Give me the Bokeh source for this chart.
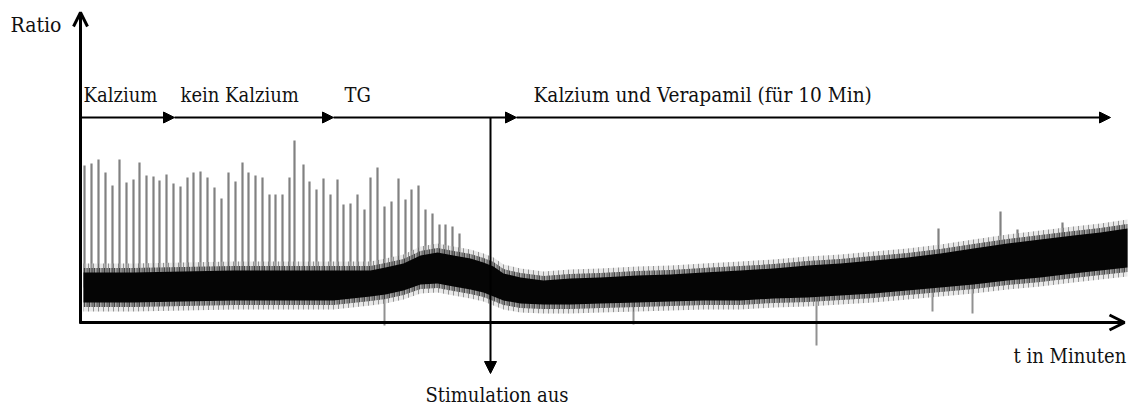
import numpy as np
from bokeh.plotting import figure
from bokeh.models import Range1d, Arrow, NormalHead, OpenHead
from bokeh.core.properties import value
from bokeh.embed import file_html
from bokeh.resources import INLINE

# ---------------- data (time in s, Fura-2 ratio) ----------------
# envelope of the dense noisy trace
env_t = [3, 53, 103, 153, 203, 253, 290, 305, 323, 340, 357, 373, 390, 403, 413,
         423, 440, 463, 490, 520, 557, 590, 623, 660, 693, 727, 760, 793, 827,
         860, 893, 927, 960, 993, 1020, 1047]
env_high = [0.75, 0.75, 0.755, 0.76, 0.76, 0.76, 0.76, 0.775, 0.795, 0.835, 0.85,
            0.835, 0.82, 0.80, 0.78, 0.745, 0.725, 0.71, 0.72, 0.725, 0.735, 0.74,
            0.75, 0.76, 0.77, 0.785, 0.795, 0.81, 0.825, 0.845, 0.87, 0.895, 0.915,
            0.935, 0.95, 0.97]
env_low = [0.60, 0.60, 0.605, 0.61, 0.61, 0.61, 0.63, 0.64, 0.66, 0.69, 0.695,
           0.68, 0.665, 0.65, 0.63, 0.61, 0.595, 0.59, 0.59, 0.595, 0.60, 0.605,
           0.61, 0.61, 0.62, 0.625, 0.635, 0.645, 0.66, 0.675, 0.69, 0.71, 0.725,
           0.745, 0.76, 0.775]

# stimulated calcium spikes (peak ratio)
spike_t = [4, 11, 18, 25, 32, 39, 46, 53, 59, 66, 73, 79, 86, 93, 100, 107, 113,
           120, 127, 134, 141, 148, 155, 162, 168, 175, 182, 189, 195, 202, 209,
           214, 223, 229, 236, 243, 250, 257, 263, 270, 277, 284, 290, 297, 304,
           311, 318, 325, 331, 338, 345, 352, 359, 365, 372, 379,
           858, 920, 937, 982]
spike_peak = [1.285, 1.295, 1.315, 1.25, 1.185, 1.315, 1.20, 1.215, 1.30, 1.235,
              1.23, 1.21, 1.24, 1.195, 1.18, 1.225, 1.25, 1.255, 1.225, 1.175,
              1.12, 1.25, 1.205, 1.30, 1.25, 1.235, 1.225, 1.14, 1.14, 1.14,
              1.225, 1.41, 1.29, 1.205, 1.165, 1.22, 1.14, 1.215, 1.09, 1.095,
              1.14, 1.065, 1.225, 1.275, 1.08, 1.105, 1.22, 1.115, 1.165, 1.185,
              1.065, 1.045, 0.99, 0.99, 0.98, 0.945,
              0.97, 1.055, 0.965, 1.00]

# downward artefacts (minimum ratio)
dip_t = [304, 553, 736, 852, 892]
dip_min = [0.485, 0.49, 0.385, 0.555, 0.545]

# annotation texts
label_texts = ["Ratio", "Kalzium", "kein Kalzium", "TG",
               "Kalzium und Verapamil (für 10 Min)", "t in Minuten",
               "Stimulation aus"]

# ---------------- figure ----------------
W, H = 1135, 406
p = figure(width=W, height=H, output_backend="svg", toolbar_location=None,
           x_range=Range1d(-80, 1055), y_range=Range1d(0.08, 2.11),
           x_axis_type=None, y_axis_type=None, min_border=0)
p.grid.visible = False
p.outline_line_color = None
p.background_fill_color = "white"
p.border_fill_color = "white"


def X(px):
    return px - 80


def Y(py):
    return 0.5 + (322 - py) * 0.005


et = np.array(env_t, float)
eh = np.array(env_high)
el = np.array(env_low)

# spikes (behind the noise)
st = np.array(spike_t, float)
base = np.interp(st, et, (eh + el) / 2)
p.segment(x0=st, y0=base, x1=st, y1=spike_peak, line_color="#7a7a7a",
          line_width=2.2, line_alpha=0.95)
dt = np.array(dip_t, float)
dbase = np.interp(dt, et, (eh + el) / 2)
p.segment(x0=dt, y0=dbase, x1=dt, y1=dip_min, line_color="#858585",
          line_width=2, line_alpha=0.9)

# outer, sparse fringe of the noise
p.varea(x=et, y1=el - 0.045, y2=eh + 0.045, fill_color="#bdbdbd", fill_alpha=0.35,
        hatch_pattern="vertical_line", hatch_color="#4a4a4a", hatch_alpha=0.55,
        hatch_scale=5, hatch_weight=1)
# inner, dense fringe
p.varea(x=et, y1=el - 0.022, y2=eh + 0.022, fill_color="#6a6a6a", fill_alpha=0.5,
        hatch_pattern="vertical_line", hatch_color="#111111", hatch_alpha=0.8,
        hatch_scale=2.5, hatch_weight=1)
# dense core of the trace
p.varea(x=et, y1=el, y2=eh, fill_color="#050505")

# ---------------- axes ----------------
p.add_layout(Arrow(end=OpenHead(size=14, line_width=3, line_color="black"),
                   x_start=X(80), y_start=Y(323), x_end=X(80), y_end=Y(12),
                   line_width=3, line_color="black"))
p.add_layout(Arrow(end=OpenHead(size=15, line_width=3, line_color="black"),
                   x_start=X(79), y_start=Y(322), x_end=X(1124), y_end=Y(322),
                   line_width=3, line_color="black"))

# phase arrows
for a, b in [(80, 174), (174, 333), (333, 516), (516, 1110)]:
    p.add_layout(Arrow(end=NormalHead(size=11, fill_color="black", line_color="black",
                                      line_width=1),
                       x_start=X(a), y_start=Y(117), x_end=X(b), y_end=Y(117),
                       line_width=2, line_color="black"))

# stimulation off
p.add_layout(Arrow(end=NormalHead(size=12, fill_color="black", line_color="black",
                                  line_width=1),
                   x_start=X(490), y_start=Y(117), x_end=X(490), y_end=Y(373),
                   line_width=2, line_color="black"))

# ---------------- texts ----------------
label_px = [10, 83, 180, 344, 533, 1013, 425]
label_py = [32, 102, 102, 102, 102, 363, 402]
sizes = ["21px", "20px", "20px", "20px", "20.6px", "20px", "20px"]
for txt, px, py, s in zip(label_texts, label_px, label_py, sizes):
    p.text(x=[X(px)], y=[Y(py - 8)], text=[txt],
           text_font=value("DejaVu Serif Condensed"), text_font_size=s,
           text_color="#111111", text_baseline="alphabetic", text_align="left")

open("out.html", "w").write(file_html(p, INLINE))
